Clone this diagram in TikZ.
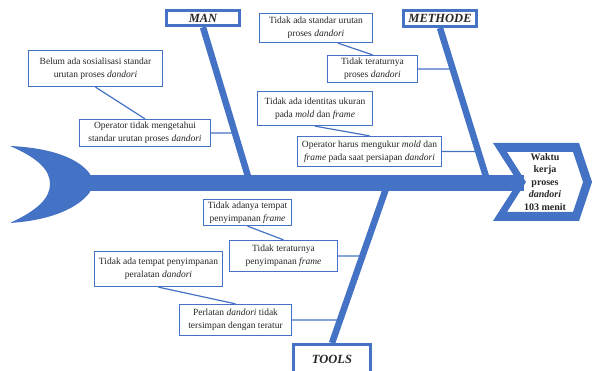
\documentclass[tikz,border=0pt]{standalone}
\usepackage{fontspec}
\setmainfont{Liberation Serif}
\usetikzlibrary{calc,backgrounds}
\definecolor{fishblue}{HTML}{4472C4}

\begin{document}
\begin{tikzpicture}[x=1pt,y=-1pt,
    cause/.style={draw=fishblue,line width=1.3pt,fill=white,align=center,inner sep=0pt,
      font=\fontsize{9.5}{13}\selectfont,text=black!85},
    cat/.style={draw=fishblue,line width=3pt,fill=white,inner sep=0pt,
      font=\fontsize{12.5}{14}\selectfont\bfseries\itshape,text=black!85},
    bone/.style={fishblue,line width=6.5pt},
    link/.style={fishblue,line width=1.2pt}]
  \useasboundingbox (0,0) rectangle (592,371);

  % categories
  \node[cat,minimum width=73pt,minimum height=15.5pt] (man)   at (203,18)    {MAN};
  \node[cat,minimum width=73pt,minimum height=16pt]   (meth)  at (440,18.5)  {METHODE};
  \node[cat,minimum width=77pt,minimum height=29pt]   (tools) at (332,359)   {TOOLS};

  % causes
  \node[cause,minimum width=134pt,minimum height=36pt] (c1)  at (95.5,68.5)  {Belum ada sosialisasi standar\\urutan proses \textit{dandori}};
  \node[cause,minimum width=131pt,minimum height=27pt] (c2)  at (145,133)    {Operator tidak mengetahui\\standar urutan proses \textit{dandori}};
  \node[cause,minimum width=113pt,minimum height=29pt] (c3)  at (316,28)     {Tidak ada standar urutan\\proses \textit{dandori}};
  \node[cause,minimum width=90pt,minimum height=27pt]  (c4)  at (372.5,69)   {Tidak teraturnya\\proses \textit{dandori}};
  \node[cause,minimum width=115pt,minimum height=34pt] (c5)  at (315,108.5)  {Tidak ada identitas ukuran\\pada \textit{mold} dan \textit{frame}};
  \node[cause,minimum width=144pt,minimum height=30pt] (c6)  at (369.5,151.5){Operator harus mengukur \textit{mold} dan\\\textit{frame} pada saat persiapan \textit{dandori}};
  \node[cause,minimum width=88pt,minimum height=26pt]  (c7)  at (247.5,212.5){Tidak adanya tempat\\penyimpanan \textit{frame}};
  \node[cause,minimum width=108pt,minimum height=31pt] (c8)  at (283.5,256)  {Tidak teraturnya\\penyimpanan \textit{frame}};
  \node[cause,minimum width=128pt,minimum height=35pt] (c9)  at (158.5,269)  {Tidak ada tempat penyimpanan\\peralatan \textit{dandori}};
  \node[cause,minimum width=112pt,minimum height=31pt] (c10) at (235.5,320)  {Perlatan \textit{dandori} tidak\\tersimpan dengan teratur};

  \coordinate (tail) at (88,183);
  \coordinate (head) at (524,183);
  \coordinate (mb) at (250,183);
  \coordinate (hb) at (488,183);
  \coordinate (tb) at (388,183);

  \begin{scope}[on background layer]
    % spine and tail
    \draw[fishblue,line width=16pt] (tail) -- (head);
    \fill[fishblue] (10,146) .. controls (55,148) and (80,160) .. (90,174) -- (90,192)
      .. controls (80,206) and (55,220) .. (10,223)
      .. controls (38,210) and (50,198) .. (50,184)
      .. controls (50,170) and (38,158) .. (10,146) -- cycle;
    % bones
    \draw[bone] (man.south) -- (mb);
    \draw[bone] (meth.south) -- (hb);
    \draw[bone] (tools.north) -- (tb);
    % links
    \draw[link] (c1.south) -- (c2.north);
    \draw[link] ([xshift=22pt]c3.south) -- (c4.north);
    \draw[link] (c5.south) -- (c6.north);
    \draw[link] (c7.south) -- (c8.north);
    \draw[link] (c9.south) -- (c10.north);
    \draw[link] (c2.east) -- (intersection of man.south--mb and c2.east--c2.west);
    \draw[link] (c4.east) -- (intersection of meth.south--hb and c4.east--c4.west);
    \draw[link] (c6.east) -- (intersection of meth.south--hb and c6.east--c6.west);
    \draw[link] (c8.east) -- (intersection of tools.north--tb and c8.east--c8.west);
    \draw[link] (c10.east) -- (intersection of tools.north--tb and c10.east--c10.west);
  \end{scope}

  % head
  \fill[fishblue,even odd rule] (493,143) -- (579,143) -- (592,182) -- (579,221) -- (493,221) -- (518,182) -- cycle
    (507,152) -- (573,152) -- (583,182) -- (573,212) -- (507,212) -- (526,182) -- cycle;
  \node[font=\fontsize{10}{12.5}\selectfont\bfseries,align=center,text=black!85] (res) at (545,182)
    {Waktu\\kerja\\proses\\\textit{dandori}\\103 menit};
\end{tikzpicture}
\end{document}
